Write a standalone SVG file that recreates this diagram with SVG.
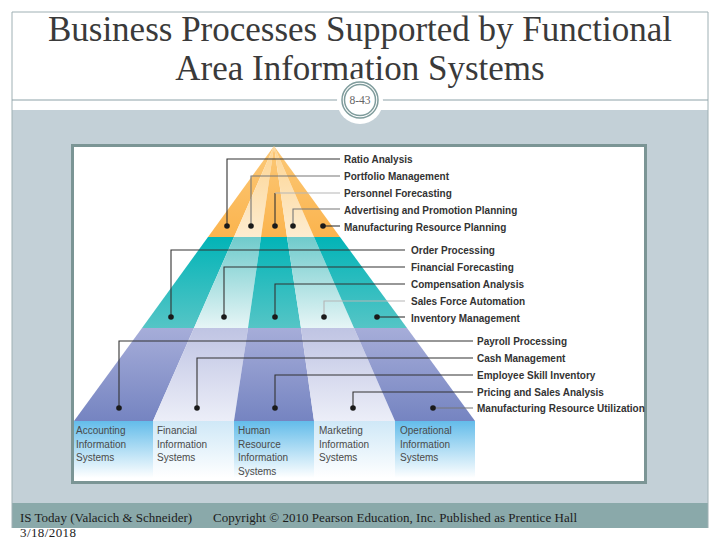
<svg xmlns="http://www.w3.org/2000/svg" width="720" height="540" viewBox="0 0 720 540">
<style>
.title{font-family:"Liberation Serif","Times New Roman",serif;font-size:35px;fill:#3a3a3a;text-anchor:middle}
.foot{font-family:"Liberation Serif","Times New Roman",serif;font-size:13px;fill:#1c1c1c}
.lab{font-family:"Liberation Sans",Arial,sans-serif;font-size:10px;font-weight:700;fill:#333}
.sys{font-family:"Liberation Sans",Arial,sans-serif;font-size:10px;fill:#4a4a4a}
.dot{fill:#1a1a1a}
.cn{fill:none;stroke-width:1.1}
.d{stroke:#333}.m{stroke:#777}.l{stroke:#b5b5b5}
</style>
<defs>
<linearGradient id="o1" gradientUnits="userSpaceOnUse" x1="0" y1="146" x2="0" y2="237"><stop offset="0" stop-color="#fbc877"/><stop offset="1" stop-color="#fbb44e"/></linearGradient>
<linearGradient id="o2" gradientUnits="userSpaceOnUse" x1="0" y1="146" x2="0" y2="237"><stop offset="0" stop-color="#fdd491"/><stop offset="1" stop-color="#fdecd0"/></linearGradient>
<linearGradient id="t1" gradientUnits="userSpaceOnUse" x1="0" y1="237" x2="0" y2="328"><stop offset="0" stop-color="#02b4b7"/><stop offset="1" stop-color="#55c5c6"/></linearGradient>
<linearGradient id="t2" gradientUnits="userSpaceOnUse" x1="0" y1="237" x2="0" y2="328"><stop offset="0" stop-color="#6fcbcc"/><stop offset="1" stop-color="#e6f5f6"/></linearGradient>
<linearGradient id="p1" gradientUnits="userSpaceOnUse" x1="0" y1="328" x2="0" y2="421"><stop offset="0" stop-color="#a6add9"/><stop offset="1" stop-color="#7584c1"/></linearGradient>
<linearGradient id="p2" gradientUnits="userSpaceOnUse" x1="0" y1="328" x2="0" y2="421"><stop offset="0" stop-color="#bfc4e3"/><stop offset="1" stop-color="#eceef8"/></linearGradient>
<linearGradient id="b1" gradientUnits="userSpaceOnUse" x1="0" y1="421" x2="0" y2="478"><stop offset="0" stop-color="#63bcea"/><stop offset="1" stop-color="#ffffff"/></linearGradient>
<linearGradient id="b2" gradientUnits="userSpaceOnUse" x1="0" y1="421" x2="0" y2="478"><stop offset="0" stop-color="#cfe8f7"/><stop offset="1" stop-color="#ffffff"/></linearGradient>
</defs>
<rect width="720" height="540" fill="#fff"/>
<rect x="12" y="110" width="696" height="393" fill="#c3d0d7"/>
<rect x="12" y="503" width="696" height="25" fill="#8aa9aa"/>
<path d="M12 528V12H708V528" fill="none" stroke="#9fb0b4" stroke-width="1"/>
<path d="M12 100H708" stroke="#8da2a8" stroke-width="1"/>
<text class="title" x="360" y="41">Business Processes Supported by Functional</text>
<text class="title" x="360" y="80">Area Information Systems</text>
<g id="page-badge">
<circle cx="360" cy="101" r="23" fill="#fff"/>
<circle cx="360" cy="100" r="18" fill="none" stroke="#7f9c9c" stroke-width="1.5"/>
<circle cx="360" cy="100" r="15.5" fill="none" stroke="#7f9c9c" stroke-width="1.5"/>
<text x="360" y="104" text-anchor="middle" font-family="Liberation Serif, serif" font-size="11.5" fill="#666">8-43</text>
</g>
<rect x="72.500" y="145.500" width="573" height="337" fill="#fff" stroke="#7b9595" stroke-width="3"/>
<g id="pyramid">
<polygon fill="url(#o1)" points="274,146 208,237 234,237"/>
<polygon fill="url(#o2)" points="274,146 234,237 261,237"/>
<polygon fill="url(#o1)" points="274,146 261,237 287,237"/>
<polygon fill="url(#o2)" points="274,146 287,237 314,237"/>
<polygon fill="url(#o1)" points="274,146 314,237 340,237"/>
<polygon fill="url(#t1)" points="208,237 234,237 194,328 142,328"/>
<polygon fill="url(#t2)" points="234,237 261,237 248,328 194,328"/>
<polygon fill="url(#t1)" points="261,237 287,237 301,328 248,328"/>
<polygon fill="url(#t2)" points="287,237 314,237 354,328 301,328"/>
<polygon fill="url(#t1)" points="314,237 340,237 407,328 354,328"/>
<polygon fill="url(#p1)" points="142,328 194,328 153,421 74,421"/>
<polygon fill="url(#p2)" points="194,328 248,328 234,421 153,421"/>
<polygon fill="url(#p1)" points="248,328 301,328 314,421 234,421"/>
<polygon fill="url(#p2)" points="301,328 354,328 395,421 314,421"/>
<polygon fill="url(#p1)" points="354,328 407,328 475,421 395,421"/>
<rect x="74" y="421" width="79" height="57" fill="url(#b1)"/>
<rect x="153" y="421" width="81" height="57" fill="url(#b2)"/>
<rect x="234" y="421" width="80" height="57" fill="url(#b1)"/>
<rect x="314" y="421" width="81" height="57" fill="url(#b2)"/>
<rect x="395" y="421" width="80" height="57" fill="url(#b1)"/>
</g>
<g id="connectors">
<path class="cn d" d="M227 226V159H340"/>
<path class="cn m" d="M251 226V176H340"/>
<path class="cn d" d="M275 226V193"/><path class="cn l" d="M275 193H340"/>
<path class="cn m" d="M293 226V209H340"/>
<path class="cn d" d="M323 226H340"/>
<path class="cn d" d="M171 317V250H405"/>
<path class="cn d" d="M224 317V267H405"/>
<path class="cn d" d="M275 317V284H405"/>
<path class="cn l" d="M324 317V301H405"/>
<path class="cn d" d="M377 317H405"/>
<path class="cn d" d="M119 408V341H473"/>
<path class="cn d" d="M197 408V358H473"/>
<path class="cn d" d="M275 408V375H473"/>
<path class="cn d" d="M353 408V392H473"/>
<path class="cn m" d="M433 408H473"/>
</g>
<g id="n-ratio"><circle class="dot" cx="227" cy="226" r="2.800"/><text class="lab" x="344" y="163">Ratio Analysis</text></g>
<g id="n-portfolio"><circle class="dot" cx="251" cy="226" r="2.800"/><text class="lab" x="344" y="180">Portfolio Management</text></g>
<g id="n-personnel"><circle class="dot" cx="275" cy="226" r="2.800"/><text class="lab" x="344" y="197">Personnel Forecasting</text></g>
<g id="n-advertising"><circle class="dot" cx="293" cy="226" r="2.800"/><text class="lab" x="344" y="214">Advertising and Promotion Planning</text></g>
<g id="n-mfg-planning"><circle class="dot" cx="323" cy="226" r="2.800"/><text class="lab" x="344" y="231">Manufacturing Resource Planning</text></g>
<g id="n-order"><circle class="dot" cx="171" cy="317" r="2.800"/><text class="lab" x="411" y="254">Order Processing</text></g>
<g id="n-fin-forecast"><circle class="dot" cx="224" cy="317" r="2.800"/><text class="lab" x="411" y="271">Financial Forecasting</text></g>
<g id="n-compensation"><circle class="dot" cx="275" cy="317" r="2.800"/><text class="lab" x="411" y="288">Compensation Analysis</text></g>
<g id="n-sales-force"><circle class="dot" cx="324" cy="317" r="2.800"/><text class="lab" x="411" y="305">Sales Force Automation</text></g>
<g id="n-inventory"><circle class="dot" cx="377" cy="317" r="2.800"/><text class="lab" x="411" y="322">Inventory Management</text></g>
<g id="n-payroll"><circle class="dot" cx="119" cy="408" r="2.800"/><text class="lab" x="477" y="345">Payroll Processing</text></g>
<g id="n-cash"><circle class="dot" cx="197" cy="408" r="2.800"/><text class="lab" x="477" y="362">Cash Management</text></g>
<g id="n-skill"><circle class="dot" cx="275" cy="408" r="2.800"/><text class="lab" x="477" y="379">Employee Skill Inventory</text></g>
<g id="n-pricing"><circle class="dot" cx="353" cy="408" r="2.800"/><text class="lab" x="477" y="396">Pricing and Sales Analysis</text></g>
<g id="n-mfg-util"><circle class="dot" cx="433" cy="408" r="2.800"/><text class="lab" x="477" y="412">Manufacturing Resource Utilization</text></g>
<g id="n-accounting"><text class="sys" x="76" y="434">Accounting</text><text class="sys" x="76" y="447.500">Information</text><text class="sys" x="76" y="461">Systems</text></g>
<g id="n-financial"><text class="sys" x="157" y="434">Financial</text><text class="sys" x="157" y="447.500">Information</text><text class="sys" x="157" y="461">Systems</text></g>
<g id="n-hr"><text class="sys" x="238" y="434">Human</text><text class="sys" x="238" y="447.500">Resource</text><text class="sys" x="238" y="461">Information</text><text class="sys" x="238" y="474.500">Systems</text></g>
<g id="n-marketing"><text class="sys" x="319" y="434">Marketing</text><text class="sys" x="319" y="447.500">Information</text><text class="sys" x="319" y="461">Systems</text></g>
<g id="n-operational"><text class="sys" x="400" y="434">Operational</text><text class="sys" x="400" y="447.500">Information</text><text class="sys" x="400" y="461">Systems</text></g>
<text class="foot" x="20" y="522">IS Today (Valacich &amp; Schneider)</text>
<text class="foot" x="213" y="522" textLength="364">Copyright © 2010 Pearson Education, Inc. Published as Prentice Hall</text>
<text class="foot" x="20" y="537" textLength="56">3/18/2018</text>
</svg>
